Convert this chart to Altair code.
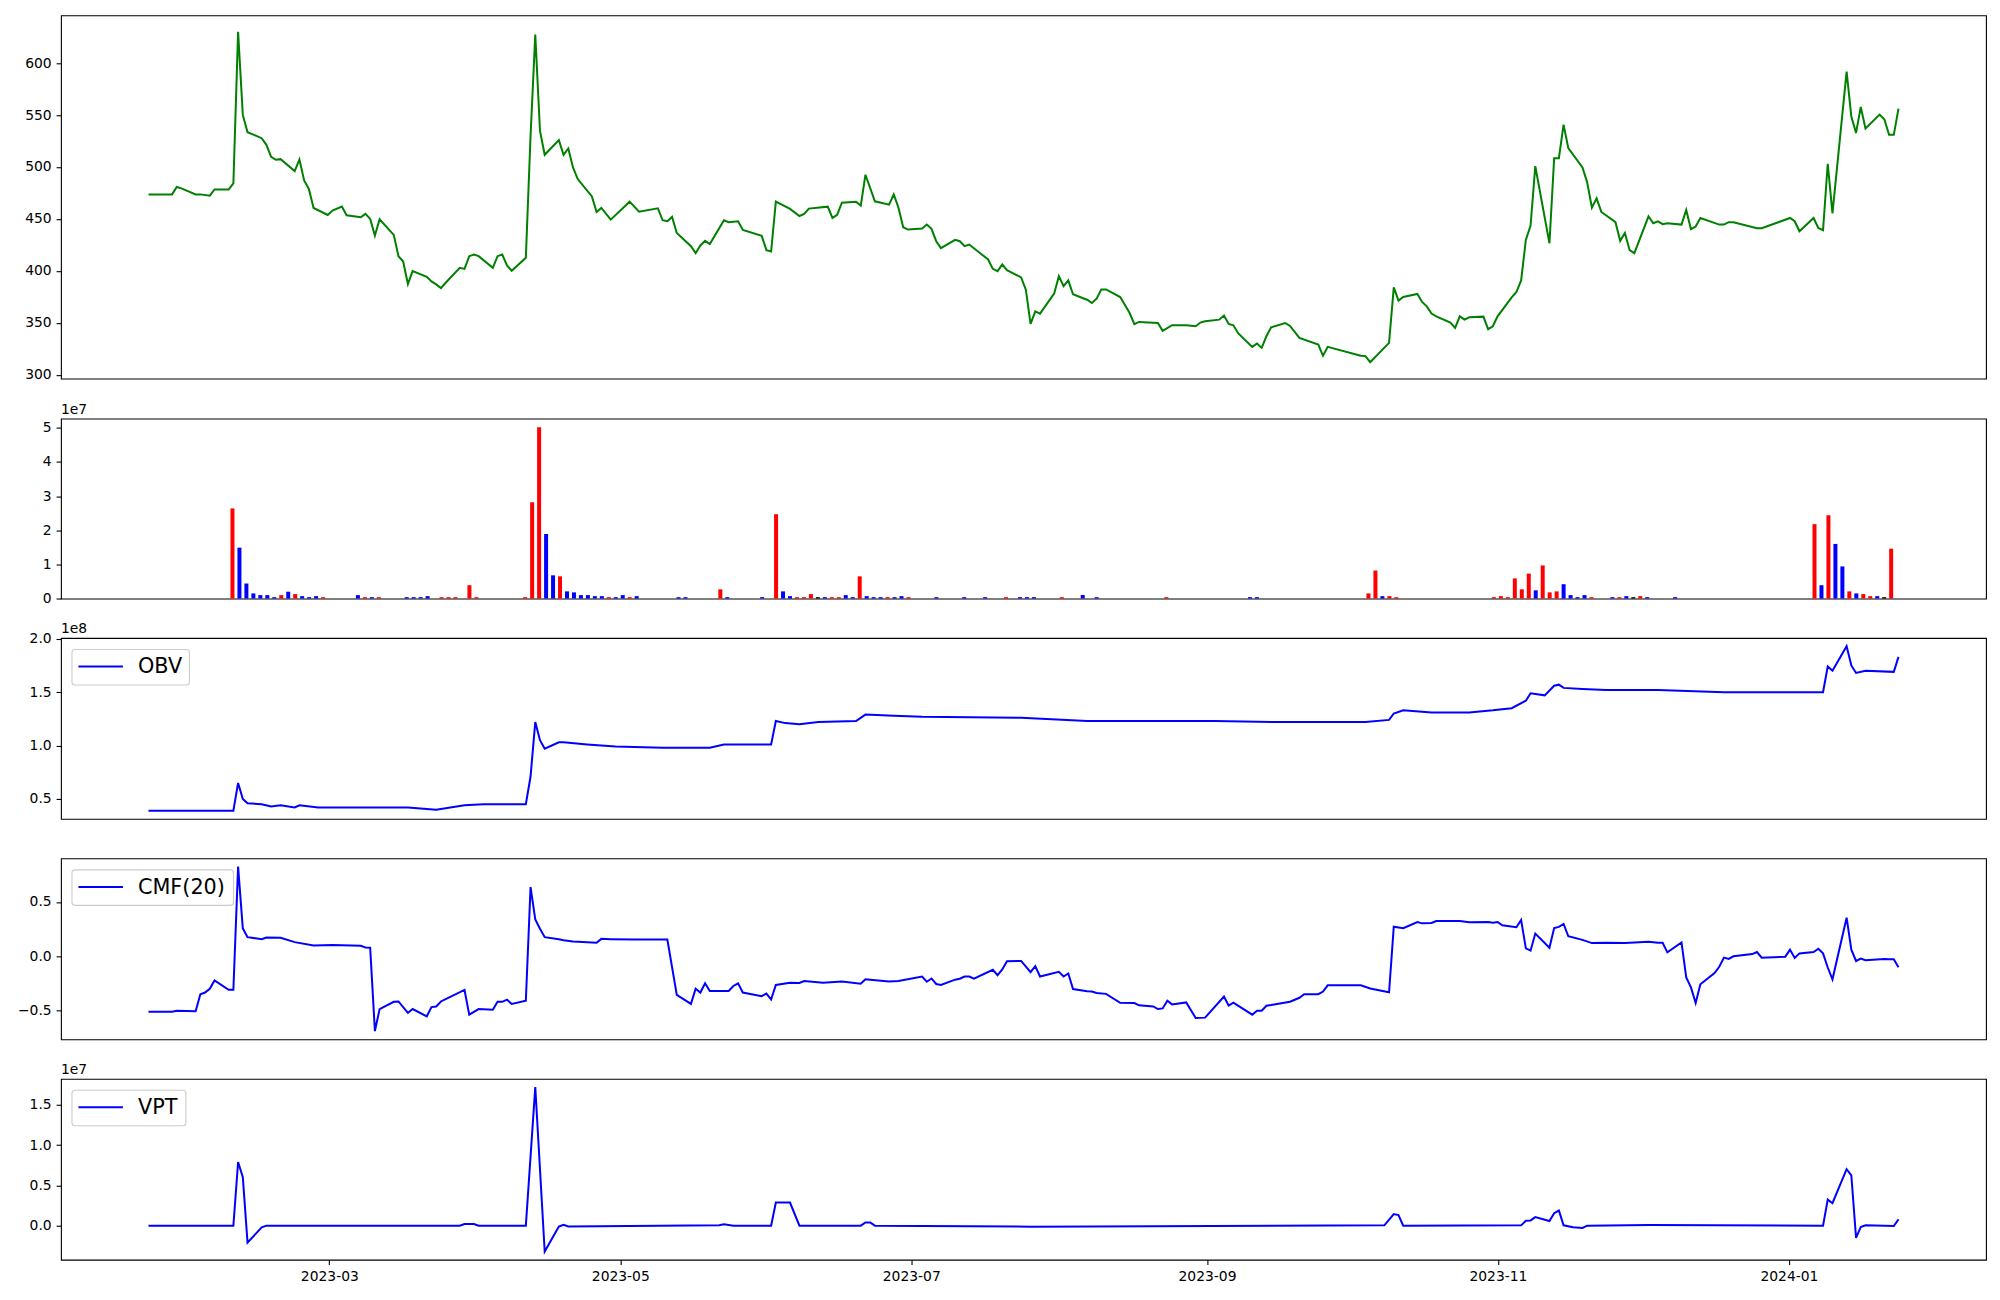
import altair as alt
import pandas as pd

# ---------------- data ----------------
# *_day lists are readings on the chart's day grid (0 = first bar of the series,
# 371 = last one); DAY_SPAN is the calendar span they cover.
FIRST_DATE = "2023-01-22T02:00:00"
DAY_SPAN = 366.9
LAST_DAY = 371

price_day = [0, 5, 6, 7, 10, 11, 13, 14, 17, 18,
             19, 20, 21, 24, 25, 26, 27, 28, 31, 32,
             33, 34, 35, 38, 39, 41, 42, 45, 46, 47,
             48, 49, 52, 53, 54, 55, 56, 59, 60, 61,
             62, 63, 66, 67, 68, 69, 70, 73, 74, 75,
             76, 77, 80, 81, 82, 83, 84, 87, 88, 89,
             90, 91, 94, 95, 96, 98,
             102, 104, 108, 109, 110, 111, 112, 115, 116, 117,
             118, 119, 122, 123, 125, 126, 130, 131, 132, 133,
             136, 138, 139, 140, 144, 145, 146, 147, 150, 151,
             152, 154, 157, 158, 159, 160, 161, 164, 165, 166,
             167, 168, 171, 172, 173, 174, 178, 179, 180, 181,
             182, 185, 186, 187, 188, 189, 192, 193, 194, 195,
             196, 198,
             199, 200, 201, 202, 203, 206, 208, 209, 210, 214,
             215, 217, 220, 222, 223, 224, 227, 228, 229, 230,
             231, 234, 235, 236, 237, 238, 241, 242, 244, 248,
             249, 250, 257, 258, 259, 263, 264, 265, 266, 269,
             270, 271, 272, 273, 276, 277, 278, 279, 280, 283,
             284, 285, 286, 289, 290, 291, 292, 293, 294, 297,
             298, 299, 300, 301, 304, 305, 306, 307, 308, 311,
             312, 313, 314, 315, 318, 319, 320, 321, 322, 325,
             326, 327, 328, 329, 333, 334, 335, 336, 341, 342,
             348, 349, 350, 353, 354, 355, 356, 357, 360, 361,
             362, 363, 364, 367, 368, 369, 370, 371]
price = [473.6, 473.6, 480.7, 479.4, 473.6, 473.6, 472.4, 478.4, 478.4, 484.2,
         630.1, 550.1, 533.5, 527.7, 521.3, 509.8, 506.9, 507.5, 496.0, 507.2,
         487.1, 478.8, 460.5, 453.8, 458.0, 461.8, 453.5, 451.6, 454.8, 450.0,
         434.0, 449.6, 434.6, 414.1, 409.0, 387.3, 399.7, 394.3, 389.8, 386.9,
         383.4, 388.5, 402.9, 401.9, 414.1, 415.7, 414.1, 402.9, 414.1, 415.7,
         405.2, 400.1, 412.5, 530.0, 627.5, 534.7, 511.7, 525.8, 511.7, 517.8,
         499.6, 488.4, 471.7, 456.7, 460.5, 449.3,
         466.6, 457.0, 460.2, 448.7, 447.7, 451.9, 436.5, 423.7, 417.0, 424.4,
         428.9, 425.7, 448.7, 446.8, 447.7, 439.4, 433.7, 419.9, 418.6, 466.6,
         459.6, 452.8, 454.8, 459.9, 461.8, 450.9, 453.8, 465.6, 466.6, 462.8,
         492.5, 466.9, 463.7, 473.6, 460.8, 442.0, 439.7, 440.7, 444.5, 440.4,
         428.5, 421.8, 429.8, 428.5, 423.7, 425.3, 410.9, 401.9, 399.7, 406.1,
         400.7, 393.7, 381.8, 348.9, 361.0, 358.8, 378.0, 394.9, 385.3, 390.8,
         377.4, 373.8,
         372.2, 369.0, 373.2, 382.1, 382.1, 374.8, 359.4, 348.6, 350.8, 349.8,
         342.2, 347.6, 347.6, 346.6, 350.2, 351.4, 353.0, 356.9, 348.9, 347.6,
         340.0, 326.8, 330.0, 325.8, 337.0, 345.7, 349.8, 346.9, 335.4, 329.0,
         318.2, 326.8, 318.2, 317.9, 312.1, 330.6, 384.1, 371.3, 374.8, 377.7,
         370.0, 365.8, 358.8, 356.2, 350.2, 345.0, 356.2, 353.0, 355.3, 355.9,
         343.8, 346.6, 356.2, 374.5, 379.6, 390.8, 429.8, 443.6, 500.8, 426.6,
         508.5, 508.5, 540.8, 518.1, 499.6, 485.2, 460.8, 469.8, 456.7, 446.8,
         428.9, 436.5, 419.9, 417.0, 452.5, 445.8, 447.7, 444.9, 445.8, 444.5,
         458.6, 440.1, 442.6, 450.9, 444.5, 444.5, 446.8, 446.8, 441.0, 441.0,
         450.9, 447.7, 438.1, 450.9, 441.3, 439.1, 503.1, 455.4, 591.7, 548.5,
         532.8, 557.8, 537.0, 550.4, 545.9, 530.9, 530.9, 556.2]

# volume panel: bars drawn by row number (0 .. N_VOL_ROWS-1)
N_VOL_ROWS = 250
vol_row = [11, 12, 13, 14, 15, 16, 17, 18, 19, 20,
           21, 22, 23, 24, 29, 30, 31, 32, 36, 37,
           38, 39, 41, 42, 43, 45, 46, 53, 54, 55,
           56, 57, 58, 59, 60, 61, 62, 63, 64, 65,
           66, 67, 68, 69, 75, 76, 81, 82, 87, 89,
           90, 91, 92, 93, 94, 95, 96, 97, 98, 99,
           100, 101, 102, 103, 104, 105, 106, 107, 108, 112,
           116, 119, 122, 124, 125, 126, 130, 133, 135, 145,
           157, 158, 174, 175, 176, 177, 178, 192, 193, 194,
           195, 196, 197, 198, 199, 200, 201, 202, 203, 204,
           205, 206, 209, 210, 211, 212, 213, 214, 218, 238,
           239, 240, 241, 242, 243, 244, 245, 246, 247, 248,
           249]
vol_e7 = [2.64, 1.49, 0.44, 0.15, 0.10, 0.10, 0.04, 0.10, 0.20, 0.13,
          0.07, 0.04, 0.07, 0.04, 0.10, 0.04, 0.04, 0.04, 0.04, 0.04,
          0.04, 0.07, 0.04, 0.04, 0.04, 0.39, 0.04, 0.04, 2.82, 5.02,
          1.89, 0.68, 0.65, 0.21, 0.18, 0.10, 0.10, 0.07, 0.07, 0.04,
          0.04, 0.10, 0.04, 0.07, 0.04, 0.04, 0.27, 0.04, 0.04, 2.47,
          0.21, 0.07, 0.04, 0.04, 0.13, 0.04, 0.04, 0.04, 0.04, 0.10,
          0.04, 0.65, 0.07, 0.04, 0.04, 0.04, 0.04, 0.07, 0.04, 0.04,
          0.04, 0.04, 0.04, 0.04, 0.04, 0.04, 0.04, 0.10, 0.04, 0.04,
          0.04, 0.04, 0.15, 0.82, 0.07, 0.07, 0.04, 0.04, 0.07, 0.04,
          0.59, 0.27, 0.73, 0.24, 0.97, 0.18, 0.21, 0.42, 0.10, 0.04,
          0.10, 0.04, 0.04, 0.04, 0.07, 0.04, 0.07, 0.04, 0.04, 2.18,
          0.39, 2.44, 1.60, 0.94, 0.21, 0.15, 0.13, 0.07, 0.07, 0.04,
          1.46]
# r = up day, b = down day, k = unchanged
vol_dir = ["r", "b", "b", "b", "b", "b", "b", "r", "b", "r",
           "b", "b", "b", "r", "b", "r", "b", "r", "b", "b",
           "b", "b", "r", "r", "r", "r", "r", "r", "r", "r",
           "b", "b", "r", "b", "b", "b", "b", "b", "b", "r",
           "b", "b", "r", "b", "b", "b", "r", "b", "b", "r",
           "b", "b", "r", "r", "r", "k", "b", "r", "r", "b",
           "b", "r", "b", "b", "b", "r", "b", "b", "r", "b",
           "b", "b", "r", "b", "b", "b", "r", "b", "b", "r",
           "b", "b", "r", "r", "b", "r", "r", "r", "r", "r",
           "r", "r", "r", "b", "r", "r", "r", "b", "b", "b",
           "b", "r", "b", "r", "b", "k", "r", "b", "b", "r",
           "b", "r", "b", "b", "r", "b", "r", "r", "b", "k",
           "r"]

obv_day = [0, 18, 19, 20, 21, 24, 26, 28, 31, 32,
           36, 46, 55, 61, 67, 71, 80, 81, 82, 83,
           84, 87, 88, 93, 99, 109, 119, 122, 132, 133,
           135, 138, 142, 150, 152, 158, 164, 185, 199, 226,
           239, 258, 263, 264, 266, 272, 280, 285, 289, 292,
           293, 296, 298, 299, 300, 304, 309, 320, 334, 355,
           356, 357, 360, 361, 362, 364, 370, 371]
obv_e8 = [0.39, 0.39, 0.65, 0.50, 0.46, 0.45, 0.43, 0.44, 0.42, 0.44,
          0.42, 0.42, 0.42, 0.40, 0.44, 0.45, 0.45, 0.71, 1.22, 1.05,
          0.97, 1.03, 1.03, 1.01, 0.99, 0.98, 0.98, 1.01, 1.01, 1.23,
          1.21, 1.20, 1.22, 1.23, 1.29, 1.28, 1.27, 1.26, 1.23, 1.23,
          1.22, 1.22, 1.24, 1.30, 1.33, 1.31, 1.31, 1.33, 1.35, 1.42,
          1.49, 1.47, 1.56, 1.57, 1.54, 1.53, 1.52, 1.52, 1.50, 1.50,
          1.74, 1.70, 1.93, 1.75, 1.68, 1.70, 1.69, 1.83]

cmf_day = [0, 5, 6, 10, 11, 12, 13, 14, 17, 18,
           19, 20, 21, 24, 25, 28, 31, 35, 39, 45,
           46, 47, 48, 49, 52, 53, 55, 56, 59, 60,
           61, 62, 63, 67, 68, 70, 73, 74, 75, 76,
           77, 80, 81, 82, 83, 84, 87, 88, 90, 95,
           96, 98, 103, 110, 112, 115, 116, 117, 118, 119,
           123, 124, 125, 126, 130, 131, 132, 133, 136, 138,
           139, 143, 147, 151, 152, 153, 157, 159, 164, 165,
           166, 167, 168, 171, 172, 173, 174, 175, 179, 180,
           181, 182, 185, 187, 188, 189, 193, 194, 195, 196,
           199, 200, 201, 203, 206, 209, 210, 213, 214, 215,
           216, 217, 220, 222, 224, 228, 229, 230, 234, 235,
           236, 237, 238, 242, 244, 245, 248, 249, 250, 257,
           259, 263, 264, 266, 269, 270, 272, 273, 278, 280,
           284, 285, 286, 287, 290, 291, 292, 293, 294, 297,
           298, 299, 300, 301, 304, 306, 309, 313, 318, 320,
           321, 322, 325, 326, 327, 328, 329, 332, 333, 334,
           335, 336, 340, 341, 342, 347, 348, 349, 350, 353,
           354, 355, 356, 357, 360, 361, 362, 363, 364, 368,
           369, 370, 371]
cmf = [-0.511, -0.511, -0.502, -0.508, -0.35, -0.335, -0.30, -0.223, -0.31, -0.31,
       0.826, 0.257, 0.176, 0.157, 0.173, 0.170, 0.130, 0.10, 0.103, 0.097,
       0.081, 0.078, -0.69, -0.487, -0.42, -0.417, -0.523, -0.487, -0.554, -0.469,
       -0.463, -0.417, -0.396, -0.311, -0.539, -0.487, -0.493, -0.42, -0.42, -0.40,
       -0.44, -0.41, 0.637, 0.34, 0.254, 0.176, 0.157, 0.148, 0.136, 0.124,
       0.16, 0.157, 0.154, 0.154, -0.357, -0.439, -0.299, -0.335, -0.25, -0.32,
       -0.32, -0.274, -0.25, -0.335, -0.368, -0.344, -0.399, -0.265, -0.244, -0.247,
       -0.229, -0.244, -0.232, -0.253, -0.213, -0.216, -0.232, -0.229, -0.187, -0.235,
       -0.205, -0.256, -0.265, -0.216, -0.207, -0.187, -0.187, -0.207, -0.125, -0.174,
       -0.122, -0.046, -0.043, -0.146, -0.091, -0.187, -0.143, -0.187, -0.159, -0.302,
       -0.323, -0.326, -0.338, -0.347, -0.429, -0.432, -0.453, -0.463, -0.487, -0.481,
       -0.411, -0.444, -0.426, -0.569, -0.566, -0.372, -0.456, -0.429, -0.539, -0.502,
       -0.502, -0.456, -0.45, -0.42, -0.383, -0.35, -0.35, -0.326, -0.268, -0.268,
       -0.298, -0.332, 0.272, 0.258, 0.315, 0.303, 0.306, 0.325, 0.325, 0.313,
       0.316, 0.309, 0.316, 0.285, 0.267, 0.334, 0.072, 0.051, 0.209, 0.078,
       0.26, 0.27, 0.297, 0.184, 0.151, 0.121, 0.124, 0.121, 0.133, 0.124,
       0.124, 0.036, 0.127, -0.195, -0.287, -0.432, -0.259, -0.155, -0.097, -0.013,
       -0.025, -0.001, 0.02, 0.039, -0.013, -0.004, 0.06, -0.016, 0.026, 0.039,
       0.069, 0.026, -0.104, -0.213, 0.355, 0.06, -0.044, -0.022, -0.037, -0.025,
       -0.028, -0.028, -0.101]

vpt_day = [0, 18, 19, 20, 21, 24, 25, 66, 67, 69,
           70, 80, 82, 84, 87, 88, 89, 121, 122, 124,
           132, 133, 136, 138, 151, 152, 153, 154, 187, 262,
           264, 265, 266, 291, 292, 293, 294, 297, 298, 299,
           300, 302, 304, 305, 318, 355, 356, 357, 360, 361,
           362, 363, 364, 370, 371]
vpt_e7 = [0, 0, 0.79, 0.60, -0.21, -0.02, 0, 0, 0.02, 0.02,
          0, 0, 1.72, -0.32, -0.01, 0.012, -0.01, 0.004, 0.016, 0,
          0, 0.286, 0.286, 0, 0, 0.04, 0.04, 0, -0.012, 0.004,
          0.143, 0.131, 0, 0.004, 0.06, 0.065, 0.106, 0.057, 0.155, 0.188,
          0.004, -0.02, -0.029, 0, 0.008, 0, 0.323, 0.278, 0.70, 0.625,
          -0.151, -0.016, 0.004, -0.004, 0.078]

x_tick_dates = ["2023-03-01", "2023-05-01", "2023-07-01", "2023-09-01", "2023-11-01", "2024-01-01"]
price_ticks = [300, 350, 400, 450, 500, 550, 600]
vol_ticks_e7 = [0, 1, 2, 3, 4, 5]
obv_ticks_e8 = [0.5, 1.0, 1.5, 2.0]
cmf_ticks = [-0.5, 0.0, 0.5]
vpt_ticks_e7 = [0.0, 0.5, 1.0, 1.5]

# ---------------- helpers ----------------
FONT = "DejaVu Sans"
W = 1926
first = pd.Timestamp(FIRST_DATE)
cal = DAY_SPAN / LAST_DAY


def stamp(day):
    return first + pd.Timedelta(days=day * cal)


def to_dates(days):
    return [stamp(d).strftime("%Y-%m-%dT%H:%M:%SZ") for d in days]


def to_ms(ts):
    return int(pd.Timestamp(ts).timestamp() * 1000)


def padded(lo, hi, f=0.05):
    r = hi - lo
    return [lo - f * r, hi + f * r]


x_dom = [to_ms(stamp(d)) for d in padded(0, LAST_DAY)]

AX = dict(labelFont=FONT, labelFontSize=13.9, labelColor="black", tickColor="black",
          tickSize=4.9, tickWidth=1.1, labelPadding=4.9, domain=False, grid=False, title=None)


def xdate(show_axis):
    axis = None
    if show_axis:
        axis = alt.Axis(values=[to_ms(d) for d in x_tick_dates],
                        labelExpr="utcFormat(datum.value, '%Y-%m')",
                        labelAngle=0, labelFlush=False, labelOverlap=False, **AX)
    return alt.X("date:T", scale=alt.Scale(type="utc", domain=x_dom), axis=axis)


def offset_text(label):
    return alt.Chart(pd.DataFrame({"t": [label]})).mark_text(
        align="left", baseline="alphabetic", font=FONT, fontSize=13.9, color="black"
    ).encode(x=alt.value(0), y=alt.value(-5), text="t:N")


def legend(label, right):
    base = alt.Chart(pd.DataFrame({"label": [label]}))
    box = base.mark_rect(fill="white", fillOpacity=0.8, stroke="#cccccc", strokeWidth=1.1,
                         cornerRadius=3).encode(
        x=alt.value(11), x2=alt.value(right), y=alt.value(11.5), y2=alt.value(47))
    sample = base.mark_rule(color="blue", strokeWidth=2).encode(
        x=alt.value(17.5), x2=alt.value(62), y=alt.value(28.5))
    txt = base.mark_text(align="left", baseline="middle", font=FONT, fontSize=20.8,
                         color="black").encode(x=alt.value(77), y=alt.value(29.5), text="label:N")
    return [box, sample, txt]


# ---------------- panel 1: price ----------------
df_price = pd.DataFrame({"date": to_dates(price_day), "price": price})
p1 = alt.Chart(df_price).mark_line(color="green", strokeWidth=2).encode(
    x=xdate(False),
    y=alt.Y("price:Q", scale=alt.Scale(domain=padded(min(price), max(price)), nice=False, zero=False),
            axis=alt.Axis(values=price_ticks, format="d", **AX)),
).properties(width=W, height=363.5)

# ---------------- panel 2: volume ----------------
df_vol = pd.DataFrame({"row": vol_row, "vol": [v * 1e7 for v in vol_e7], "dir": vol_dir})
vol_x_dom = padded(-0.4, N_VOL_ROWS - 1 + 0.4)
bars = alt.Chart(df_vol).mark_bar(size=4).encode(
    x=alt.X("row:Q", scale=alt.Scale(domain=vol_x_dom, nice=False, zero=False), axis=None),
    y=alt.Y("vol:Q", scale=alt.Scale(domain=[0, max(vol_e7) * 1.05e7], nice=False),
            axis=alt.Axis(values=[v * 1e7 for v in vol_ticks_e7],
                          labelExpr="format(datum.value / 1e7, 'd')", **AX)),
    color=alt.Color("dir:N", scale=alt.Scale(domain=["r", "b", "k"], range=["red", "blue", "black"]),
                    legend=None),
)
p2 = alt.layer(bars, offset_text("1e7")).properties(width=W, height=180)

# ---------------- panel 3: OBV ----------------
df_obv = pd.DataFrame({"date": to_dates(obv_day), "obv": [v * 1e8 for v in obv_e8]})
obv_line = alt.Chart(df_obv).mark_line(color="blue", strokeWidth=2).encode(
    x=xdate(False),
    y=alt.Y("obv:Q", scale=alt.Scale(domain=[v * 1e8 for v in padded(min(obv_e8), max(obv_e8))],
                                      nice=False, zero=False),
            axis=alt.Axis(values=[v * 1e8 for v in obv_ticks_e8],
                          labelExpr="format(datum.value / 1e8, '.1f')", **AX)),
)
p3 = alt.layer(obv_line, offset_text("1e8"), *legend("OBV", 128.5)).properties(width=W, height=181)

# ---------------- panel 4: CMF ----------------
df_cmf = pd.DataFrame({"date": to_dates(cmf_day), "cmf": cmf})
cmf_line = alt.Chart(df_cmf).mark_line(color="blue", strokeWidth=2).encode(
    x=xdate(False),
    y=alt.Y("cmf:Q", scale=alt.Scale(domain=padded(min(cmf), max(cmf)), nice=False, zero=False),
            axis=alt.Axis(values=cmf_ticks,
                          labelExpr="replace(format(datum.value, '.1f'), '-', '\u2212')", **AX)),
)
p4 = alt.layer(cmf_line, *legend("CMF(20)", 172.6)).properties(width=W, height=181)

# ---------------- panel 5: VPT ----------------
df_vpt = pd.DataFrame({"date": to_dates(vpt_day), "vpt": [v * 1e7 for v in vpt_e7]})
vpt_line = alt.Chart(df_vpt).mark_line(color="blue", strokeWidth=2).encode(
    x=xdate(True),
    y=alt.Y("vpt:Q", scale=alt.Scale(domain=[v * 1e7 for v in padded(min(vpt_e7), max(vpt_e7))],
                                      nice=False, zero=False),
            axis=alt.Axis(values=[v * 1e7 for v in vpt_ticks_e7],
                          labelExpr="format(datum.value / 1e7, '.1f')", **AX)),
)
p5 = alt.layer(vpt_line, offset_text("1e7"), *legend("VPT", 125)).properties(width=W, height=181)

chart = alt.vconcat(p1, p2, p3, p4, p5, spacing=39.5, bounds="flush").properties(
    padding={"left": 8, "top": 6, "right": 5, "bottom": 5},
    background="white",
).configure_view(stroke="black", strokeWidth=1.1)

chart.save("out.html", embed_options={"renderer": "svg", "actions": False})
